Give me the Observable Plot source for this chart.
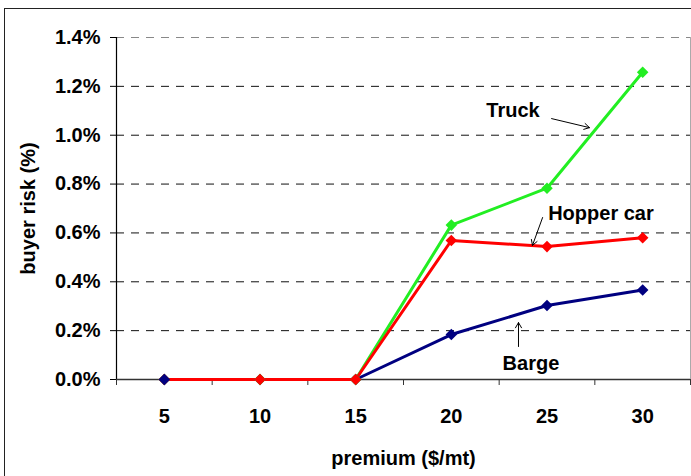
<!DOCTYPE html>
<html>
<head>
<meta charset="utf-8">
<script src="https://cdn.jsdelivr.net/npm/d3@7"></script>
<script src="https://cdn.jsdelivr.net/npm/@observablehq/plot@0.6"></script>
<style>
  html, body { margin: 0; padding: 0; background: #fff; overflow: hidden; }
  #wrap { position: relative; width: 691px; height: 476px; }
  #frame { position: absolute; left: 4px; top: 8px; width: 800px; height: 600px;
           border-left: 1.6px solid #222; border-top: 1.6px solid #222; pointer-events: none; }
  #chart { position: absolute; left: 0; top: 0; }
</style>
</head>
<body>
<div id="wrap"><div id="chart"></div><div id="frame"></div></div>
<script>
// ---- data ----
const premiums = [5, 10, 15, 20, 25, 30];
const truck     = [0, 0, 0, 0.632, 0.783, 1.258];
const hopperCar = [0, 0, 0, 0.569, 0.544, 0.580];
const barge     = [0, 0, 0, 0.184, 0.303, 0.366];
const seriesNames = ["Barge", "Truck", "Hopper car"];
const yTicks = [0, 0.2, 0.4, 0.6, 0.8, 1.0, 1.2, 1.4];
const xLabel = "premium ($/mt)";
const yLabel = "buyer risk (%)";
// annotation labels (data coordinates)
const noteLabels = ["Truck", "Hopper car", "Barge"];
const noteX = [23.22, 27.82, 24.16];
const noteY = [1.101, 0.679, 0.065];
const arrowX1 = [25.24, 24.77, 23.51];
const arrowY1 = [1.068, 0.663, 0.135];
const arrowX2 = [27.22, 24.24, 23.51];
const arrowY2 = [1.031, 0.549, 0.233];

// ---- tables built from arrays ----
const valuesBySeries = {"Barge": barge, "Truck": truck, "Hopper car": hopperCar};
const rows = seriesNames.flatMap(s => premiums.map((p, i) => ({series: s, premium: p, value: valuesBySeries[s][i]})));
const step = premiums[1] - premiums[0];
const xDomain = [premiums[0] - step / 2, premiums[premiums.length - 1] + step / 2];
const bounds = d3.range(premiums.length + 1).map(i => xDomain[0] + i * step);
const notes = noteLabels.map((t, i) => ({text: t, x: noteX[i], y: noteY[i]}));
const arrows = noteLabels.map((t, i) => ({x1: arrowX1[i], y1: arrowY1[i], x2: arrowX2[i], y2: arrowY2[i]}));
const yMax = yTicks[yTicks.length - 1];

const colorScale = {domain: seriesNames, range: ["#000080", "#22ee22", "#ff0000"]};
const font = {fontSize: 20, fontWeight: "bold"};

const chart = Plot.plot({
  width: 691,
  height: 476,
  marginLeft: 116,
  marginTop: 37,
  marginBottom: 97,
  marginRight: 1,
  style: {fontFamily: "'Liberation Sans', Arial, sans-serif", background: "transparent", overflow: "visible", color: "#000"},
  x: {type: "linear", domain: xDomain},
  y: {domain: [0, yMax]},
  color: colorScale,
  marks: [
    // gridlines
    Plot.ruleY(yTicks.filter(d => d > 0 && d < yMax), {stroke: "#111", strokeWidth: 1, strokeDasharray: "8,7"}),
    Plot.ruleY([yMax], {stroke: "#888", strokeWidth: 1.2, strokeDasharray: "8,7"}),
    Plot.ruleX([xDomain[1]], {stroke: "#aaa", strokeWidth: 1}),
    // axes
    Plot.axisY({ticks: yTicks, tickFormat: d => d.toFixed(1) + "%", tickSize: 6, tickPadding: 10, label: null, ...font}),
    Plot.ruleX([xDomain[0]], {stroke: "#000", strokeWidth: 1.2}),
    Plot.ruleY([0], {stroke: "#333", strokeWidth: 1.5}),
    Plot.axisX({ticks: bounds, tickFormat: () => "", tickSize: 6, label: null, stroke: "#333"}),
    Plot.axisX({ticks: premiums, tickSize: 0, tickPadding: 29, label: null, ...font}),
    Plot.text([xLabel], {frameAnchor: "bottom", dy: 85, ...font}),
    Plot.text([yLabel], {frameAnchor: "left", textAnchor: "middle", dx: -88, rotate: -90, ...font}),
    // series
    Plot.line(rows, {x: "premium", y: "value", z: "series", stroke: "series", strokeWidth: 3}),
    Plot.dot(rows, {x: "premium", y: "value", fill: "series", symbol: "diamond2", r: 5.2}),
    Plot.dot(rows.filter(d => d.series === "Barge" && d.premium === premiums[0]),
      {x: "premium", y: "value", fill: "series", symbol: "diamond2", r: 5.2}),
    // annotations
    Plot.text(notes, {x: "x", y: "y", text: "text", ...font}),
    Plot.arrow(arrows, {x1: "x1", y1: "y1", x2: "x2", y2: "y2", stroke: "#000", strokeWidth: 1, headLength: 9})
  ]
});
document.getElementById("chart").appendChild(chart);
</script>
</body>
</html>
